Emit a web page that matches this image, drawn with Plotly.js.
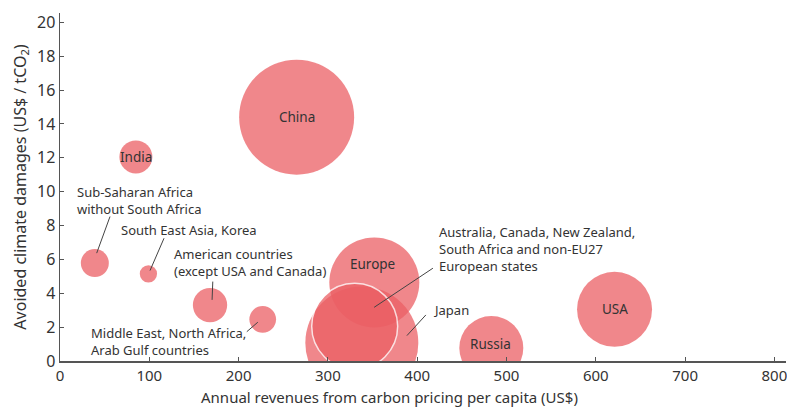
<!DOCTYPE html>
<html>
<head>
<meta charset="utf-8">
<script src="https://cdn.plot.ly/plotly-3.0.1.min.js"></script>
<style>html,body{margin:0;padding:0;background:#fff;}#chart{width:787px;height:408px;}</style>
</head>
<body>
<div id="chart"></div>
<script>
// ---- data ----
const regions = ["Japan", "Europe", "Australia, Canada, New Zealand, South Africa and non-EU27 European states",
  "China", "India", "Sub-Saharan Africa without South Africa", "South East Asia, Korea",
  "American countries (except USA and Canada)", "Middle East, North Africa, Arab Gulf countries",
  "Russia", "USA"];
const revenuePerCapita = [338, 352, 330, 265, 85, 39, 99, 168, 227, 483, 621];
const avoidedDamages   = [1.07, 4.64, 2.05, 14.4, 12.05, 5.78, 5.15, 3.3, 2.46, 0.77, 3.05];
const bubbleValue      = [113, 90, 86, 115, 33, 28, 17.3, 34.3, 26.7, 64, 75];
const xTicks = [0, 100, 200, 300, 400, 500, 600, 700, 800];
const yTicks = [0, 2, 4, 6, 8, 10, 12, 14, 16, 18, 20];
const xTitle = "Annual revenues from carbon pricing per capita (US$)";
const yTitle = "Avoided climate damages (US$ / tCO<sub>2</sub>)";

// ---- styles ----
const FONT = "Noto Sans, sans-serif";
const TXT = "#333333";
const fill = "rgb(235,95,100)";

const outline = regions.map((r, i) => i === 2 ? "#ffffff" : "rgba(0,0,0,0)");
const outlineW = regions.map((r, i) => i === 2 ? 1.5 : 0);

const trace = {
  type: "scatter", mode: "markers",
  x: revenuePerCapita, y: avoidedDamages, text: regions,
  hoverinfo: "text",
  cliponaxis: true,
  marker: { size: bubbleValue, sizemode: "diameter", sizeref: 1,
            color: fill, opacity: 0.75,
            line: { color: outline, width: outlineW } }
};

function idx(name) { return regions.indexOf(name); }

// labels drawn inside bubbles
const inside = [
  { i: idx("China"), t: "China" },
  { i: idx("India"), t: "India" },
  { i: idx("USA"), t: "USA" }
];
const annotations = inside.map(o => ({
  x: revenuePerCapita[o.i], y: avoidedDamages[o.i], xref: "x", yref: "y",
  text: o.t, showarrow: false, font: { family: FONT, size: 13.5, color: TXT }
}));
// offset labels (label-placement config)
const offsetLabels = [
  { t: "Europe", x: 350.4, y: 5.72, anchor: "center" },
  { t: "Russia", x: 481.8, y: 1.0, anchor: "center" },
  { t: "Sub-Saharan Africa<br>without South Africa", x: 16.8, y: 9.49, anchor: "left" },
  { t: "South East Asia, Korea", x: 66.4, y: 7.74, anchor: "left" },
  { t: "American countries<br>(except USA and Canada)", x: 125.8, y: 5.8, anchor: "left" },
  { t: "Middle East, North Africa,<br>Arab Gulf countries", x: 32.8, y: 1.14, anchor: "left" },
  { t: "Australia, Canada, New Zealand,<br>South Africa and non-EU27<br>European states", x: 422, y: 6.6, anchor: "left" },
  { t: "Japan", x: 415.7, y: 3.02, anchor: "left" }
];
offsetLabels.forEach(o => annotations.push({
  x: o.x, y: o.y, xref: "x", yref: "y", text: o.t, showarrow: false,
  xanchor: o.anchor, yanchor: "middle", align: "left",
  font: { family: FONT, size: o.anchor === "center" ? 13.5 : 13, color: TXT }
}));
// x-axis title (placed left of plot centre, as in the reference)
annotations.push({
  x: 0.4545, y: -0.104, xref: "paper", yref: "paper", text: xTitle,
  showarrow: false, xanchor: "center", yanchor: "middle",
  font: { family: FONT, size: 15, color: TXT }
});

// leader lines
const leaders = [
  [56.0, 8.53, 41.1, 6.37],
  [116.5, 7.25, 100.8, 5.34],
  [171.1, 4.69, 170.3, 3.61],
  [221.5, 2.29, 209.2, 1.73],
  [417.6, 5.48, 351.8, 3.17],
  [409.7, 2.72, 388.5, 1.50]
];
const shapes = leaders.map(l => ({
  type: "line", xref: "x", yref: "y", x0: l[0], y0: l[1], x1: l[2], y1: l[3],
  line: { color: "#444444", width: 1 }
}));

const layout = {
  width: 787, height: 408,
  margin: { l: 60, r: 1, t: 13, b: 47, pad: 0 },
  paper_bgcolor: "#ffffff", plot_bgcolor: "#ffffff",
  showlegend: false,
  font: { family: FONT, color: TXT },
  xaxis: {
    range: [0, 813], tickvals: xTicks, ticktext: xTicks.map(String),
    automargin: false, ticklabeloverflow: "allow",
    showline: true, linecolor: "#555555", linewidth: 1.5,
    ticks: "inside", ticklen: 4, tickcolor: "#555555", tickwidth: 1,
    showgrid: false, zeroline: false,
    tickfont: { family: FONT, size: 15, color: TXT }
  },
  yaxis: {
    range: [0, 20.55], tickvals: yTicks, ticktext: yTicks.map(String),
    automargin: false, ticklabeloverflow: "allow",
    showline: true, linecolor: "#555555", linewidth: 1.5,
    ticks: "inside", ticklen: 4, tickcolor: "#555555", tickwidth: 1,
    showgrid: false, zeroline: false,
    tickfont: { family: FONT, size: 16, color: TXT },
    title: { text: yTitle, standoff: 6,
             font: { family: FONT, size: 16, color: TXT } }
  },
  annotations: annotations,
  shapes: shapes
};

Plotly.newPlot("chart", [trace], layout, { displayModeBar: false, staticPlot: true });
</script>
</body>
</html>
